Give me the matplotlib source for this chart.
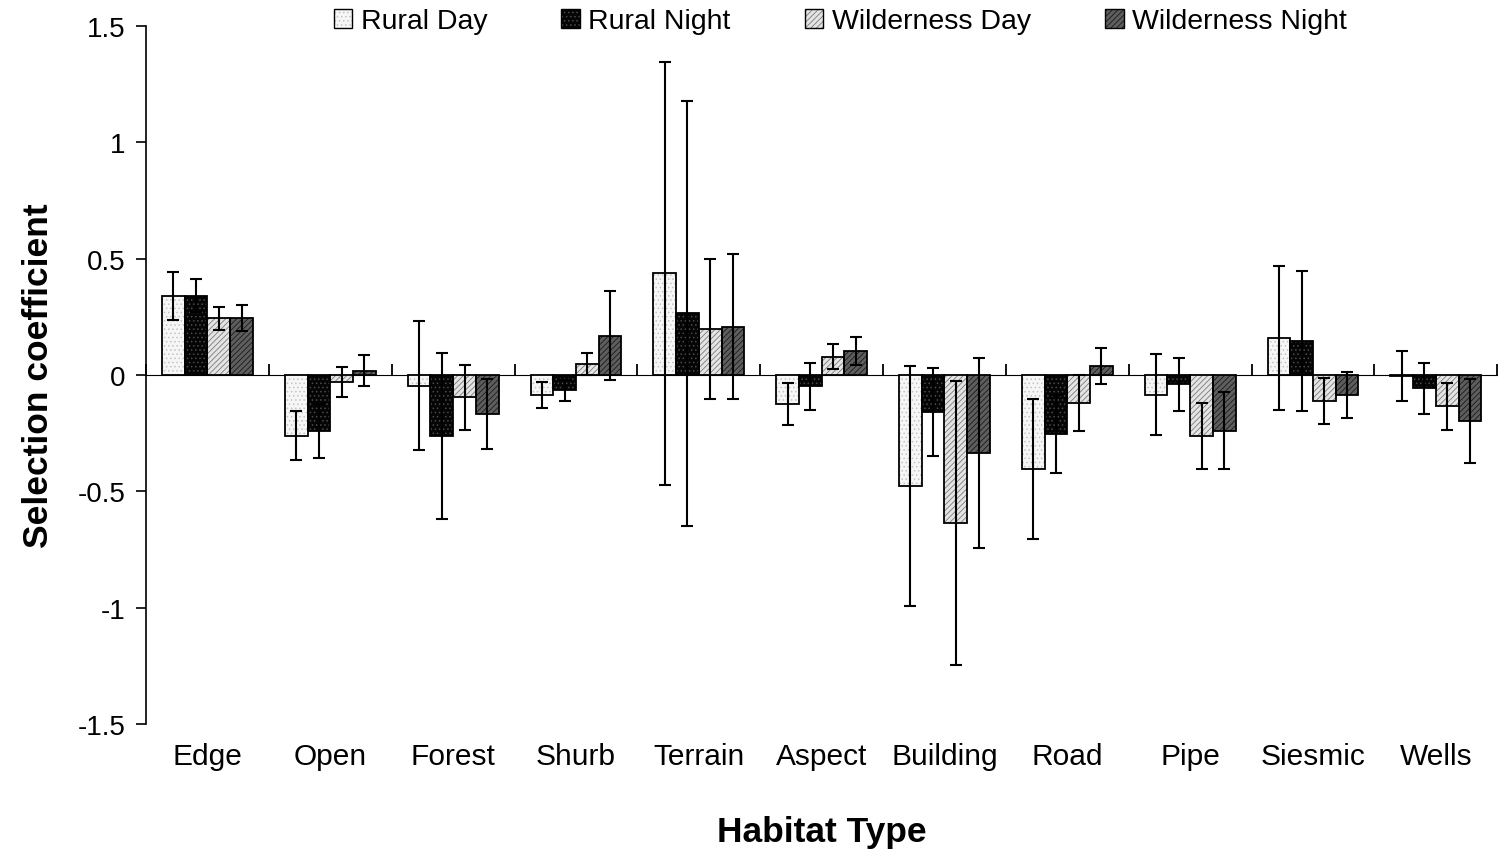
import numpy as np
import matplotlib
matplotlib.use('Agg')
import matplotlib.pyplot as plt
from matplotlib.patches import Patch

plt.rcParams['font.family'] = ['Liberation Sans', 'DejaVu Sans']
plt.rcParams['hatch.linewidth'] = 0.6

# --- dados ---
categories = ['Edge', 'Open', 'Forest', 'Shurb', 'Terrain', 'Aspect',
              'Building', 'Road', 'Pipe', 'Siesmic', 'Wells']
series = ['Rural Day', 'Rural Night', 'Wilderness Day', 'Wilderness Night']

rural_day = [0.341, -0.261, -0.046, -0.086, 0.437, -0.126, -0.476, -0.405, -0.086, 0.159, -0.004]
rural_day_err = [0.103, 0.105, 0.277, 0.056, 0.910, 0.090, 0.516, 0.300, 0.174, 0.310, 0.107]

rural_night = [0.341, -0.241, -0.262, -0.066, 0.265, -0.049, -0.160, -0.255, -0.040, 0.145, -0.057]
rural_night_err = [0.072, 0.117, 0.357, 0.046, 0.913, 0.100, 0.190, 0.168, 0.115, 0.300, 0.110]

wild_day = [0.244, -0.031, -0.096, 0.049, 0.198, 0.079, -0.636, -0.119, -0.262, -0.112, -0.135]
wild_day_err = [0.050, 0.065, 0.140, 0.047, 0.300, 0.055, 0.610, 0.120, 0.140, 0.100, 0.100]

wild_night = [0.246, 0.018, -0.168, 0.169, 0.208, 0.105, -0.335, 0.040, -0.239, -0.087, -0.199]
wild_night_err = [0.056, 0.066, 0.150, 0.190, 0.310, 0.060, 0.410, 0.078, 0.166, 0.100, 0.180]

values = [rural_day, rural_night, wild_day, wild_night]
errors = [rural_day_err, rural_night_err, wild_day_err, wild_night_err]

# estilo das barras: (cor de fundo, cor da textura, textura)
styles = [
    ('#f6f6f6', '#c4c4c4', '....'),
    ('#050505', '#4a4a4a', '....'),
    ('#e4e4e4', '#7a7a7a', '//////'),
    ('#5e5e5e', '#1a1a1a', '//////'),
]

fig = plt.figure(figsize=(14.98, 8.54), dpi=100)
ax = fig.add_axes([0.0975, 0.151, 0.902, 0.8175])

x = np.arange(len(categories))
w = 0.185
handles = []
for i, (vals, errs) in enumerate(zip(values, errors)):
    face, hcol, hatch = styles[i]
    pos = x + (i - 1.5) * w
    ax.bar(pos, vals, w, color=face, edgecolor=hcol, hatch=hatch, linewidth=0, zorder=2)
    ax.bar(pos, vals, w, fill=False, edgecolor='black', linewidth=1.3, zorder=3)
    ax.errorbar(pos, vals, yerr=errs, fmt='none', ecolor='black',
                elinewidth=1.5, capsize=4.6, capthick=1.5, zorder=4)
    h_fill = Patch(facecolor=face, edgecolor=hcol, hatch=hatch, linewidth=0)
    h_edge = Patch(fill=False, edgecolor='black', linewidth=1.0)
    handles.append((h_fill, h_edge))

ax.set_xlim(-0.5, len(categories) - 0.5)
ax.set_ylim(-1.5, 1.5)
ax.set_yticks([-1.5, -1, -0.5, 0, 0.5, 1, 1.5])
ax.set_yticklabels(['-1.5', '-1', '-0.5', '0', '0.5', '1', '1.5'], fontsize=20)
ax.tick_params(axis='y', direction='out', length=7, width=1.2, pad=8)

# rótulos das categorias embaixo
ax.set_xticks(x)
ax.set_xticklabels(categories, fontsize=21.5)
ax.tick_params(axis='x', length=0, pad=13)

for s in ['top', 'right', 'bottom']:
    ax.spines[s].set_visible(False)
ax.spines['left'].set_linewidth(1.2)

# eixo do zero com marcas entre categorias
sec = ax.secondary_xaxis(0.5)
sec.set_xticks(np.arange(-0.5, len(categories), 1.0))
sec.set_xticklabels([])
sec.tick_params(direction='out', length=8, width=1.3)
sec.spines['bottom'].set_linewidth(1.7)

ax.set_ylabel('Selection coefficient', fontsize=25.5, fontweight='bold', labelpad=16)
ax.set_xlabel('Habitat Type', fontsize=25.5, fontweight='bold', labelpad=32)

fig.legend(handles, series, loc='center', bbox_to_anchor=(0.561, 0.974), ncol=4,
           frameon=False, fontsize=20.5, handlelength=0.65, handleheight=0.65,
           handletextpad=0.3, columnspacing=2.6)

plt.savefig('out.png', dpi=100)
